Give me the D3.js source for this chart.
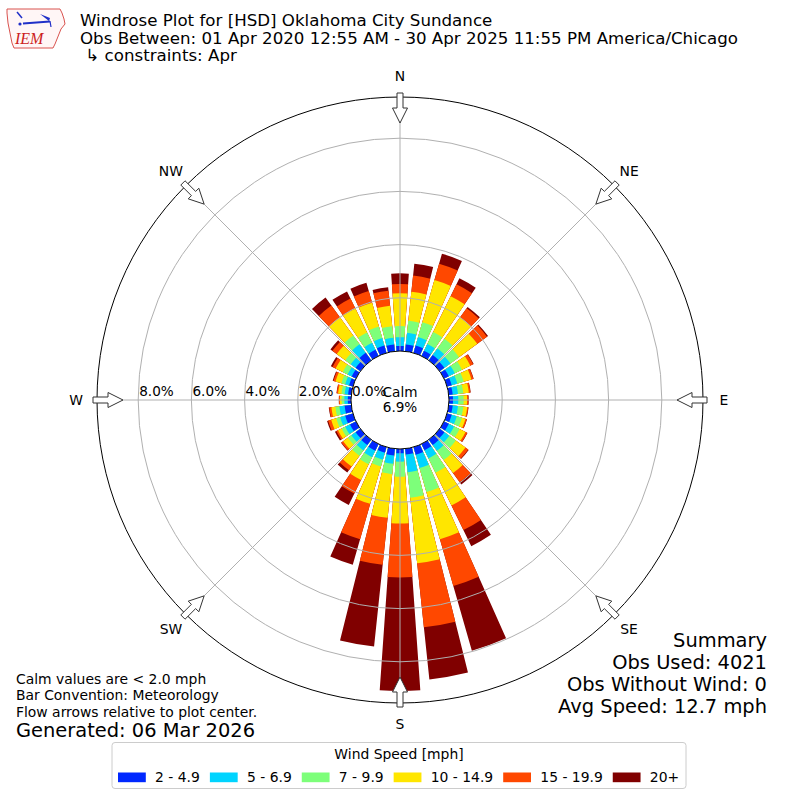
<!DOCTYPE html>
<html><head><meta charset="utf-8">
<script src="https://cdn.jsdelivr.net/npm/d3@7"></script>
<style>
html,body{margin:0;padding:0;background:#fff}
svg{display:block;font-family:"DejaVu Sans",sans-serif}
</style>
</head><body>
<svg id="c" width="800" height="800"></svg>
<script>
// ---------------- DATA ----------------
const directions = [0,10,20,30,40,50,60,70,80,90,100,110,120,130,140,150,160,170,
                    180,190,200,210,220,230,240,250,260,270,280,290,300,310,320,330,340,350];
const speedBins = ["2 - 4.9","5 - 6.9","7 - 9.9","10 - 14.9","15 - 19.9","20+"];
const binColors = ["#0028ff","#00d4ff","#7dff7a","#ffe600","#ff4800","#800000"];
// percent of observations per direction, per speed bin
const spd2to4   = [.19,.26,.29,.22,.25,.22,.20,.18,.15,.15,.15,.18,.20,.22,.25,.26,.30,.22,
                   .16,.26,.22,.28,.25,.22,.25,.30,.25,.12,.12,.15,.18,.22,.35,.26,.29,.26];
const spd5to6   = [.33,.44,.33,.28,.30,.28,.25,.22,.20,.20,.20,.20,.22,.23,.27,.34,.52,.67,
                   .32,.31,.27,.27,.25,.20,.20,.20,.20,.13,.13,.15,.17,.23,.40,.29,.29,.25];
const spd7to9   = [.42,.45,.58,.50,.45,.40,.30,.25,.20,.20,.20,.20,.23,.30,.43,.60,.94,.96,
                   .56,.39,.27,.30,.25,.16,.15,.15,.15,.10,.12,.15,.20,.25,.40,.43,.45,.44];
const spd10to14 = [1.23,1.10,1.65,1.50,1.00,.85,.35,.30,.21,.13,.15,.14,.25,.45,.60,1.37,1.84,2.48,
                   1.76,1.65,1.46,.65,.50,.22,.15,.20,.15,.07,.13,.23,.30,.40,.85,1.01,.93,.77];
const spd15to19 = [.35,.61,.64,.50,.42,.45,.12,.08,.06,.05,.04,.05,.07,.13,.43,1.03,1.83,2.42,
                   2.03,1.78,1.38,.57,.17,.08,.07,.12,.08,.03,.05,.08,.13,.20,.55,.41,.46,.57];
const spd20plus = [.40,.45,.39,.25,.06,.05,.02,.01,.01,.01,.01,.01,.01,.02,.10,.67,2.53,1.97,
                   4.27,3.09,1.00,.48,.11,.02,.06,.04,.02,.01,.01,.03,.07,.09,.37,.30,.32,.13];
const ringTicks = [0,2,4,6,8];
const compassLabels = ["N","NE","E","SE","S","SW","W","NW"];
const compassAngles = [0,45,90,135,180,225,270,315];
const calmPct = 6.9;
const titleLines = ["Windrose Plot for [HSD] Oklahoma City Sundance",
  "Obs Between: 01 Apr 2020 12:55 AM - 30 Apr 2025 11:55 PM America/Chicago",
  " \u21B3 constraints: Apr"];
const summaryLines = ["Summary","Obs Used: 4021","Obs Without Wind: 0","Avg Speed: 12.7 mph"];
const noteLines = ["Calm values are < 2.0 mph","Bar Convention: Meteorology","Flow arrows relative to plot center."];
const generated = "Generated: 06 Mar 2026";
const legendTitle = "Wind Speed [mph]";

// ---------------- CHART ----------------
const svg = d3.select("#c");
const cx = 400, cy = 400;
const calmR = 49, outerR = 303;
const r = d3.scaleLinear().domain([0, 8]).range([calmR, 261.8]);
const rad = d => d * Math.PI / 180;
const halfW = rad(4);
const series = [spd2to4, spd5to6, spd7to9, spd10to14, spd15to19, spd20plus];

const g = svg.append("g").attr("transform", `translate(${cx},${cy})`);

// stacked bars: draw cumulative wedges from outermost bin down
const cum = directions.map((d, i) => {
  let c = 0; return series.map(s => (c += s[i]));
});
const arc = d3.arc();
const barG = g.append("g");
for (let k = series.length - 1; k >= 0; k--) {
  barG.append("g").selectAll("path").data(directions).join("path")
    .attr("d", (d, i) => arc({innerRadius: r(0), outerRadius: r(cum[i][k]),
        startAngle: rad(d) - halfW, endAngle: rad(d) + halfW}))
    .attr("fill", binColors[k]);
}

// grid
const gridG = g.append("g").attr("fill", "none").attr("stroke", "#b0b0b0").attr("stroke-width", 1);
gridG.selectAll("circle").data(ringTicks.filter(t => t > 0)).join("circle").attr("r", d => r(d));
gridG.selectAll("line").data(compassAngles).join("line")
  .attr("x1", d => r(0) * Math.sin(rad(d))).attr("y1", d => -r(0) * Math.cos(rad(d)))
  .attr("x2", d => outerR * Math.sin(rad(d))).attr("y2", d => -outerR * Math.cos(rad(d)));

// outer + calm circles
g.append("circle").attr("r", outerR).attr("fill", "none").attr("stroke", "#000").attr("stroke-width", 1);
g.append("circle").attr("r", calmR).attr("fill", "#fff").attr("stroke", "#000").attr("stroke-width", 1);

// ring labels
g.append("g").selectAll("text").data(ringTicks).join("text")
  .attr("x", d => -r(d) + 1).attr("y", -4)
  .attr("font-size", 13.6).text(d => d.toFixed(1) + "%");

// calm text
g.append("text").attr("text-anchor", "middle").attr("y", -3.5).attr("font-size", 13.6).text("Calm");
g.append("text").attr("text-anchor", "middle").attr("y", 11.5).attr("font-size", 13.6).text(calmPct.toFixed(1) + "%");

// arrows
const R1 = 307, R2 = 292, R3 = 277, sw = 3, hw = 7.5;
const arrowPts = [[R1,-sw],[R2,-sw],[R2,-hw],[R3,0],[R2,hw],[R2,sw],[R1,sw]];
g.append("g").selectAll("path").data(compassAngles).join("path")
  .attr("d", a => {
    const s = Math.sin(rad(a)), c = Math.cos(rad(a));
    return "M" + arrowPts.map(([rr, w]) => [rr * s + w * c, -rr * c + w * s].map(v => v.toFixed(2)).join(",")).join("L") + "Z";
  })
  .attr("fill", "#fff").attr("stroke", "#333").attr("stroke-width", 1);

// compass labels
g.append("g").selectAll("text").data(compassAngles).join("text")
  .attr("x", a => 324 * Math.sin(rad(a))).attr("y", a => -324 * Math.cos(rad(a)) + 5)
  .attr("text-anchor", "middle").attr("font-size", 13.9).text((a, i) => compassLabels[i]);

// titles
svg.append("g").selectAll("text").data(titleLines).join("text")
  .attr("x", 80).attr("y", (d, i) => [26, 43.5, 61][i])
  .attr("font-size", 16.67).style("white-space", "pre").text(d => d);

// summary
svg.append("g").selectAll("text").data(summaryLines).join("text")
  .attr("x", 767).attr("y", (d, i) => 647 + i * 22).attr("text-anchor", "end")
  .attr("font-size", 19.44).text(d => d);

// notes
svg.append("g").selectAll("text").data(noteLines).join("text")
  .attr("x", 16).attr("y", (d, i) => 684 + i * 16.4).attr("font-size", 13.9).text(d => d);
svg.append("text").attr("x", 16).attr("y", 736.5).attr("font-size", 19.44).text(generated);

// legend
const leg = svg.append("g");
leg.append("rect").attr("x", 112).attr("y", 742.5).attr("width", 574).attr("height", 46)
  .attr("rx", 3).attr("fill", "#fff").attr("stroke", "#cccccc").attr("stroke-width", 1);
leg.append("text").attr("x", 399).attr("y", 759).attr("text-anchor", "middle").attr("font-size", 13.9).text(legendTitle);
let lx = 118;
speedBins.forEach((b, i) => {
  leg.append("rect").attr("x", lx).attr("y", 772.5).attr("width", 27.8).attr("height", 9.7).attr("fill", binColors[i]);
  const t = leg.append("text").attr("x", lx + 27.8 + 9.3).attr("y", 782).attr("font-size", 13.9).text(b);
  lx = lx + 27.8 + 9.3 + t.node().getComputedTextLength() + 10;
});

// IEM logo (approximation)
const logo = svg.append("g");
logo.append("path")
  .attr("d", "M7,9 L60,9 L62,13 L64,19 L65,24 L61,29 L59,34 L57,39 L55,44 L53,48 L14,48 L12,43 L10,33 L8,23 L7,13 Z")
  .attr("fill", "#fff6f6").attr("stroke", "#d9534f").attr("stroke-width", 1);
logo.append("path").attr("d", "M23,23.5 L50,21.5").attr("stroke", "#2030c8").attr("stroke-width", 1.8);
logo.append("path").attr("d", "M17,12 L22,18").attr("stroke", "#2030c8").attr("stroke-width", 1.5);
logo.append("path").attr("d", "M40,14 L50,18 L49,21 Z").attr("fill", "#2030c8");
logo.append("path").attr("d", "M50,21 L51,27").attr("stroke", "#2030c8").attr("stroke-width", 1.2);
logo.append("circle").attr("cx", 20).attr("cy", 24).attr("r", 1.6).attr("fill", "#2030c8");
logo.append("text").attr("x", 15).attr("y", 44).attr("font-family", "'Liberation Serif',serif")
  .attr("font-style", "italic").attr("font-size", 16).attr("fill", "#cc2020").text("IEM");
</script>
</body></html>
